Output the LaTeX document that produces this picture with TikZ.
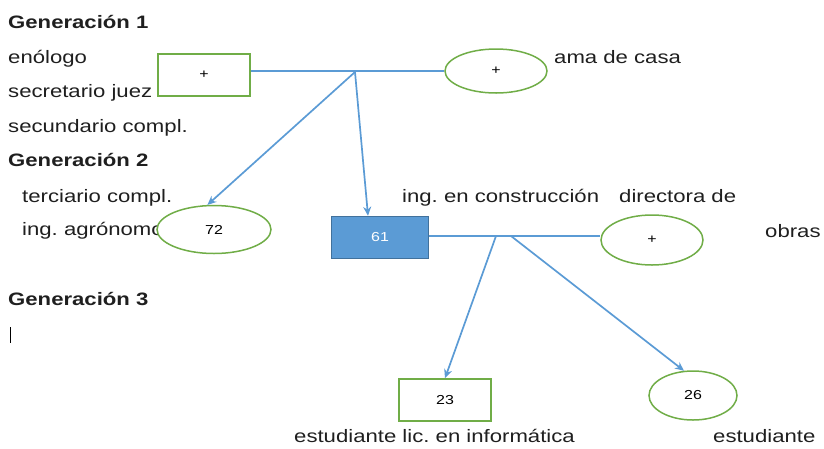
\documentclass[tikz,border=0pt]{standalone}
\usepackage{fontspec}
\setmainfont{Liberation Sans}[FakeStretch=1.23]
\usepackage{tikz}
\usetikzlibrary{arrows, arrows.meta, positioning, shapes.geometric}
\tikzset{>=stealth}
\definecolor{verde}{HTML}{70AD47}
\definecolor{azul}{HTML}{5B9BD5}
\definecolor{azulosc}{HTML}{41719C}
\definecolor{tinta}{HTML}{1F1F1F}
\frenchspacing

\begin{document}
\begin{tikzpicture}[x=1pt, y=-1pt,
	txt/.style={anchor=base west, inner sep=0pt, text=tinta, font=\fontsize{18}{22}\selectfont},
	gen/.style={txt, font=\fontsize{18}{22}\selectfont\bfseries},
	caja/.style={draw=verde, fill=white, line width=1.5pt, minimum width=92pt, minimum height=42pt, inner sep=0pt, font=\fontsize{13}{15}\selectfont},
	elip/.style={ellipse, draw=verde, fill=white, line width=1.5pt, minimum width=102pt, minimum height=44pt, inner sep=0pt, font=\fontsize{13}{15}\selectfont},
	link/.style={draw=azul, line width=1.7pt},
	flecha/.style={link, -{Stealth[length=9pt, width=8pt]}}]
		\useasboundingbox (0,0) rectangle (824,448);
		% generacion 1
		\node[gen] (G1) at (8,28) {Generación 1};
		\node[txt] (T1) at (8,63) {enólogo};
		\node[txt] (T2) at (8,97) {secretario juez};
		\node[txt] (T3) at (8,132) {secundario compl.};
		\node[txt] (T4) at (554,63) {ama de casa};
		\node[caja] (P1) at (204,75) {+};
		\node[elip] (M1) at (496,71) {+};
		
		% generacion 2
		\node[gen] (G2) at (8,166) {Generación 2};
		\node[txt] (T5) at (22,202) {terciario compl.};
		\node[txt] (T6) at (22,235) {ing. agrónomo};
		\node[txt] (T7) at (402,202) {ing. en construcción};
		\node[txt] (T8) at (619,202) {directora de};
		\node[txt] (T9) at (765,237) {obras};
		\node[elip, minimum width=114pt, minimum height=48pt] (H72) at (214,229.5) {72};
		\node[caja, fill=azul, draw=azulosc, text=white, minimum width=97pt, minimum height=42pt] (H61) at (380,237.5) {61};
		\node[elip, minimum height=50pt] (M2) at (652,240) {+};
		
		% generacion 3
		\node[gen] (G3) at (8,305) {Generación 3};
		\draw[line width=1pt] (10,327) -- (10,343);
		\node[caja, minimum width=92pt] (N23) at (445,400) {23};
		\node[elip, minimum width=88pt, minimum height=49pt] (N26) at (693,395.5) {26};
		\node[txt] (T10) at (294,442) {estudiante lic. en informática};
		\node[txt] (T11) at (713,442) {estudiante};
		
		% uniones
		\coordinate (J1) at (355,72);
		\coordinate (J2) at (496,236);
		\coordinate (J3) at (511,236);
		\draw[link] (P1.east |- M1.west) -- (M1.west);
		\draw[flecha] (J1) -- (H72.105);
		\draw[flecha] (J1) -- ([xshift=-12pt]H61.north);
		\draw[link] (H61.east |- J2) -- (M2.west |- J2);
		\draw[flecha] (J2) -- (N23.north);
		\draw[flecha] (J3) -- (N26.110);
\end{tikzpicture}
\end{document}
